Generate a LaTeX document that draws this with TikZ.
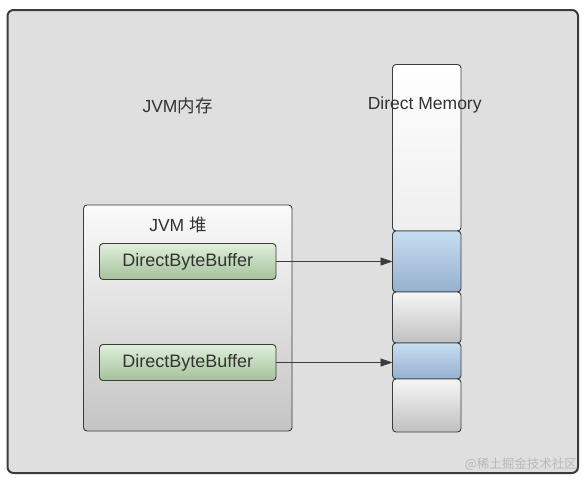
\documentclass[tikz,border=0pt]{standalone}
\usepackage{fontspec}
\setmainfont{Liberation Sans}
\newfontfamily\cjk{Noto Sans CJK SC}
\usetikzlibrary{arrows.meta,shadings}
\definecolor{txt}{HTML}{333333}
\definecolor{bord}{HTML}{3C3C3C}
\definecolor{outerfill}{HTML}{DFDFDF}
\definecolor{blueTop}{RGB}{200,221,240}
\definecolor{blueBot}{RGB}{150,176,208}
\definecolor{grayTop}{RGB}{246,246,246}
\definecolor{grayBot}{RGB}{192,192,192}
\definecolor{heapTop}{RGB}{250,250,250}
\definecolor{heapBot}{RGB}{196,196,196}
\definecolor{greenTop}{RGB}{224,239,220}
\definecolor{greenBot}{RGB}{164,193,155}
\definecolor{whiteBot}{RGB}{238,238,238}
\definecolor{wmark}{RGB}{185,185,185}
\tikzset{
  box/.style={draw=bord, line width=0.9pt, rounded corners=3.5pt, inner sep=0pt, outer sep=0pt, anchor=north west},
  whiteseg/.style={box, top color=white, bottom color=whiteBot},
  blueseg/.style={box, top color=blueTop, bottom color=blueBot},
  grayseg/.style={box, top color=grayTop, bottom color=grayBot},
  heap/.style={box, top color=heapTop, bottom color=heapBot},
  dbb/.style={box, top color=greenTop, bottom color=greenBot, text=txt, font=\fontsize{18}{20}\selectfont},
  lbl/.style={text=txt, font=\fontsize{17.5}{20}\selectfont, inner sep=0pt},
  ptr/.style={draw=bord, line width=0.8pt, -{Triangle[length=12pt,width=8pt]}}
}
\begin{document}
\begin{tikzpicture}[x=1pt,y=-1pt]
\useasboundingbox (0,0) rectangle (588,477);
\draw[draw=bord, line width=2pt, fill=outerfill, rounded corners=6pt] (7.5,10) rectangle (578,473);
\node[lbl] (jvmmem) at (177.5,105.5) {JVM{\cjk 内存}};
% heap
\node[heap, minimum width=208.5pt, minimum height=226pt] (heap) at (83.5,205) {};
\node[lbl] (heaplbl) at (178,225) {JVM {\cjk 堆}};
\node[dbb, minimum width=176.5pt, minimum height=36pt, anchor=center] (dbb1) at (187.75,261.5) {DirectByteBuffer};
\node[dbb, minimum width=176.5pt, minimum height=36pt, anchor=center] (dbb2) at (187.75,362.5) {DirectByteBuffer};
% direct memory column
\node[whiteseg, minimum width=68.5pt, minimum height=166.5pt] (top) at (392.5,64.5) {};
\node[blueseg, minimum width=68.5pt, minimum height=61pt] (blue1) at (392.5,231) {};
\node[grayseg, minimum width=68.5pt, minimum height=51pt] (gray1) at (392.5,292) {};
\node[blueseg, minimum width=68.5pt, minimum height=36pt] (blue2) at (392.5,343) {};
\node[grayseg, minimum width=68.5pt, minimum height=53pt] (gray2) at (392.5,379) {};
\node[lbl] (dmlbl) at (424.7,105) {Direct Memory};
% pointers
\draw[ptr] (dbb1.east) -- (blue1.west |- dbb1.east);
\draw[ptr] (dbb2.east) -- (blue2.west |- dbb2.east);
% watermark
\node[text=wmark, font=\cjk\fontsize{12.5}{14}\selectfont, inner sep=0pt, anchor=east] (wm) at (577,464) {@稀土掘金技术社区};
\end{tikzpicture}
\end{document}
